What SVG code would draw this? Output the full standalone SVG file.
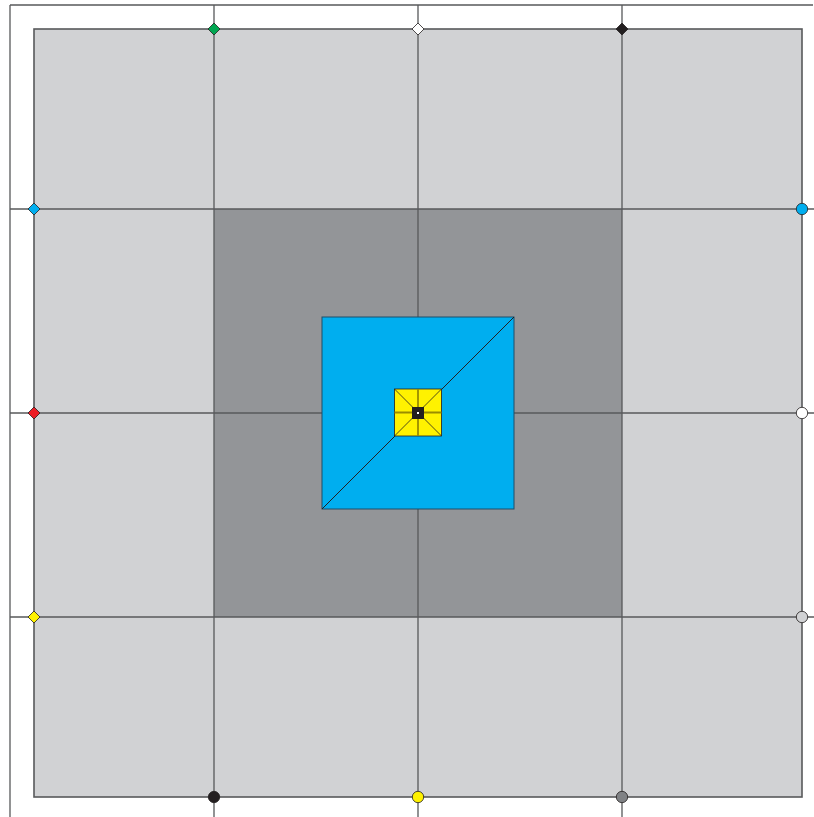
<svg xmlns="http://www.w3.org/2000/svg" width="814" height="817" viewBox="0 0 814 817">
<style>
.ln{stroke:#58595b;stroke-width:1.3;fill:none}
.mk{stroke:#231f20;stroke-width:0.8}
</style>
<defs>
<path id="dia" d="M0,-6 L6,0 L0,6 L-6,0 Z"/>
</defs>
<rect width="814" height="817" fill="#ffffff"/>
<g id="frame">
<path class="ln" d="M10,5 H813 M10,5 V817"/>
</g>
<g id="board">
<rect x="34" y="29" width="768" height="768" fill="#d1d2d4" stroke="#58595b" stroke-width="1.6"/>
<rect x="214" y="209" width="408" height="408" fill="#939598"/>
</g>
<g id="connectors">
<path class="ln" d="M214,5 V817 M418,5 V817 M622,5 V817 M10,209 H814 M10,413 H814 M10,617 H814"/>
</g>
<g id="blue-square">
<rect x="322" y="317" width="192" height="192" fill="#00aeef" stroke="#1d4f6a" stroke-width="1"/>
<line x1="322" y1="509" x2="514" y2="317" stroke="#231f20" stroke-width="1"/>
</g>
<g id="yellow-square">
<rect x="394.5" y="389" width="47" height="47" fill="#fff200" stroke="#231f20" stroke-width="0.8"/>
<path d="M418,389 V436 M394.5,412.5 H441.5" stroke="#9a8c00" stroke-width="1.8"/>
<path d="M394.5,389 L441.5,436 M394.5,436 L441.5,389" stroke="#231f20" stroke-width="0.8"/>
<rect x="412" y="407" width="12" height="12" fill="#231f20"/>
<rect x="417" y="412" width="2" height="2" fill="#ffffff"/>
</g>
<g id="marker-top-1"><use href="#dia" x="214" y="29" fill="#00a651" class="mk"/></g>
<g id="marker-top-2"><use href="#dia" x="418" y="29" fill="#ffffff" class="mk"/></g>
<g id="marker-top-3"><use href="#dia" x="622" y="29" fill="#231f20" class="mk"/></g>
<g id="marker-left-1"><use href="#dia" x="34" y="209" fill="#00aeef" class="mk"/></g>
<g id="marker-left-2"><use href="#dia" x="34" y="413" fill="#ed1c24" class="mk"/></g>
<g id="marker-left-3"><use href="#dia" x="34" y="617" fill="#fff200" class="mk"/></g>
<g id="marker-right-1"><circle cx="802" cy="209" r="5.7" fill="#00aeef" class="mk"/></g>
<g id="marker-right-2"><circle cx="802" cy="413" r="5.7" fill="#ffffff" class="mk"/></g>
<g id="marker-right-3"><circle cx="802" cy="617" r="5.7" fill="#d1d2d4" class="mk"/></g>
<g id="marker-bottom-1"><circle cx="214" cy="797" r="5.7" fill="#231f20" class="mk"/></g>
<g id="marker-bottom-2"><circle cx="418" cy="797" r="5.7" fill="#fff200" class="mk"/></g>
<g id="marker-bottom-3"><circle cx="622" cy="797" r="5.7" fill="#808285" class="mk"/></g>
</svg>
